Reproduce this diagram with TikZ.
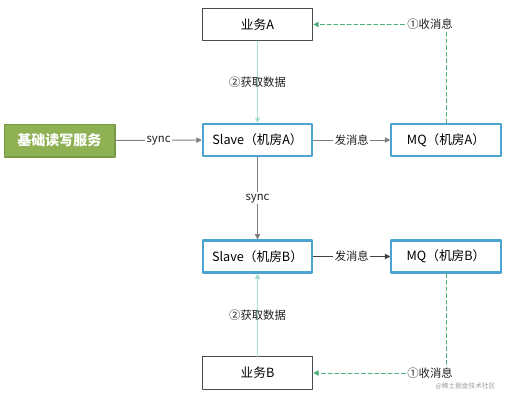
\documentclass[tikz,border=0pt]{standalone}
\usepackage{fontspec}
\setmainfont{Noto Sans CJK SC}
\usepackage{tikz}
\usetikzlibrary{
    arrows.meta,
    positioning
}
\definecolor{ink}      {HTML}{1F1F1F}
\definecolor{wire}     {HTML}{7F7F7F}
\definecolor{basefill} {HTML}{8DB153}
\definecolor{baseedge} {HTML}{789A44}
\definecolor{slaveedge}{HTML}{4BA4CF}
\definecolor{fetch}    {HTML}{A9E2D2}
\definecolor{notify}   {HTML}{4DAF78}
\definecolor{mark}     {HTML}{9A9A9A}

\begin{document}
\begin{tikzpicture}[
    x=0.75pt, y=-0.75pt,
    line cap=round, line join=round,
    >={Triangle[length=4pt, width=4pt]},
    %% --- semantic styles ---
    basebox/.style   = {rectangle, draw=baseedge, fill=basefill, line width=1pt,
                        minimum width=83pt, minimum height=24.5pt,
                        text=white, font=\fontsize{10.5}{12}\selectfont\bfseries},
    bizbox/.style    = {rectangle, draw=ink!80, fill=white, line width=0.7pt,
                        minimum width=83pt, minimum height=24.5pt,
                        font=\fontsize{9.5}{11}\selectfont},
    slavebox/.style  = {rectangle, draw=slaveedge, fill=white, line width=1.6pt,
                        minimum width=82pt, minimum height=24pt,
                        font=\fontsize{9.5}{11}\selectfont},
    syncflow/.style  = {->, draw=wire, line width=0.7pt},
    sendflow/.style  = {->, draw=ink!85, line width=0.7pt},
    fetchflow/.style = {-{Triangle[length=4pt, width=4pt, fill=notify]},
                        draw=fetch, line width=1pt},
    recvflow/.style  = {-{Triangle[length=4pt, width=4pt, fill=notify]},
                        draw=notify, line width=0.7pt, dash pattern=on 3pt off 2pt},
    flowlabel/.style = {fill=white, inner sep=1pt, text=ink,
                        font=\fontsize{8.5}{10}\selectfont},
    steplabel/.style = {inner sep=1pt, text=ink,
                        font=\fontsize{8.5}{10}\selectfont}
]
\useasboundingbox (0,0) rectangle (511,400);

%% =====================================================
%% Entry service
%% =====================================================
\node[basebox] (BASE) at (59.5, 140.5) {基础读写服务};

%% =====================================================
%% Room A
%% =====================================================
\node[bizbox]   (BIZA)   at (257.5, 24.5) {业务A};
\node[slavebox] (SLAVEA) at (257.5, 140)  {Slave（机房A）};
\node[slavebox] (MQA)    at (446, 140)    {MQ（机房A）};

%% =====================================================
%% Room B
%% =====================================================
\node[slavebox] (SLAVEB) at (257.5, 256.5) {Slave（机房B）};
\node[slavebox] (MQB)    at (446, 256.5)   {MQ（机房B）};
\node[bizbox]   (BIZB)   at (257.5, 373)   {业务B};

%% =====================================================
%% Sync and send
%% =====================================================
\draw[syncflow] (BASE) -- node[flowlabel] {sync} (SLAVEA);
\draw[syncflow] (SLAVEA) -- node[flowlabel] {sync} (SLAVEB);
\draw[syncflow] (SLAVEA) -- node[flowlabel] {发消息} (MQA);
\draw[sendflow] (SLAVEB) -- node[flowlabel] {发消息} (MQB);

%% =====================================================
%% Receive message, then fetch data
%% =====================================================
\draw[recvflow] (MQA.north) |- node[flowlabel, pos=0.56] {①收消息} (BIZA.east);
\draw[recvflow] (MQB.south) |- node[flowlabel, pos=0.56] {①收消息} (BIZB.east);
\draw[fetchflow] (BIZA) -- node[steplabel, pos=0.5] {②获取数据} (SLAVEA);
\draw[fetchflow] (BIZB) -- node[steplabel, pos=0.5] {②获取数据} (SLAVEB);

% watermark
\node[text=mark, font=\fontsize{5}{6}\selectfont, anchor=east] (MARK)
    at (500, 386) {@稀土掘金技术社区};

\end{tikzpicture}
\end{document}
